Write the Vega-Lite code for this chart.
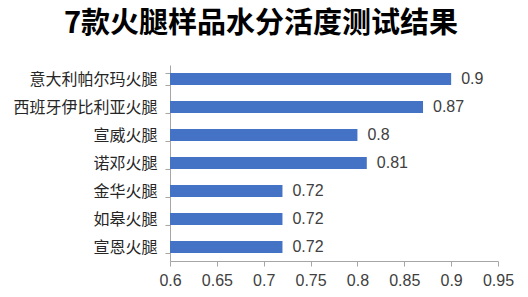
{
  "$schema": "https://vega.github.io/schema/vega-lite/v6.json",
  "autosize": "none",
  "width": 328,
  "height": 196,
  "padding": {"left": 170, "top": 65, "right": 30, "bottom": 36},
  "background": "white",
  "title": {
    "text": "7款火腿样品水分活度测试结果",
    "font": "Noto Sans CJK SC",
    "fontSize": 29,
    "fontWeight": "bold",
    "color": "#000000",
    "anchor": "middle",
    "dx": -73,
    "offset": 18
  },
  "data": {
    "values": [
      {"name": "意大利帕尔玛火腿", "aw": 0.9},
      {"name": "西班牙伊比利亚火腿", "aw": 0.87},
      {"name": "宣威火腿", "aw": 0.8},
      {"name": "诺邓火腿", "aw": 0.81},
      {"name": "金华火腿", "aw": 0.72},
      {"name": "如皋火腿", "aw": 0.72},
      {"name": "宣恩火腿", "aw": 0.72}
    ]
  },
  "encoding": {
    "y": {
      "field": "name",
      "type": "nominal",
      "sort": null,
      "title": null,
      "scale": {"paddingInner": 0.57, "paddingOuter": 0.285},
      "axis": {
        "domainColor": "#A6A6A6",
        "tickColor": "#A6A6A6",
        "tickSize": 5,
        "tickBand": "extent",
        "labelPadding": 8,
        "labelFont": "Noto Sans CJK SC",
        "labelFontSize": 16,
        "labelColor": "#262626",
        "grid": false
      }
    },
    "x": {
      "field": "aw",
      "type": "quantitative",
      "title": null,
      "scale": {"domain": [0.6, 0.95], "nice": false, "zero": false},
      "axis": {
        "values": [0.6, 0.65, 0.7, 0.75, 0.8, 0.85, 0.9, 0.95],
        "format": ".2~f",
        "grid": false,
        "domainColor": "#A6A6A6",
        "tickColor": "#A6A6A6",
        "tickSize": 5,
        "labelPadding": 6,
        "labelFont": "Liberation Sans",
        "labelFontSize": 16,
        "labelColor": "#404040",
        "labelFlush": false
      }
    }
  },
  "layer": [
    {"mark": {"type": "bar", "color": "#4472C4"}, "encoding": {"x2": {"datum": 0.6}}},
    {
      "mark": {"type": "text", "align": "left", "dx": 10, "font": "Liberation Sans", "fontSize": 16, "color": "#404040"},
      "encoding": {"text": {"field": "aw", "type": "quantitative", "format": ".2~f"}}
    }
  ],
  "config": {"view": {"stroke": null}}
}
